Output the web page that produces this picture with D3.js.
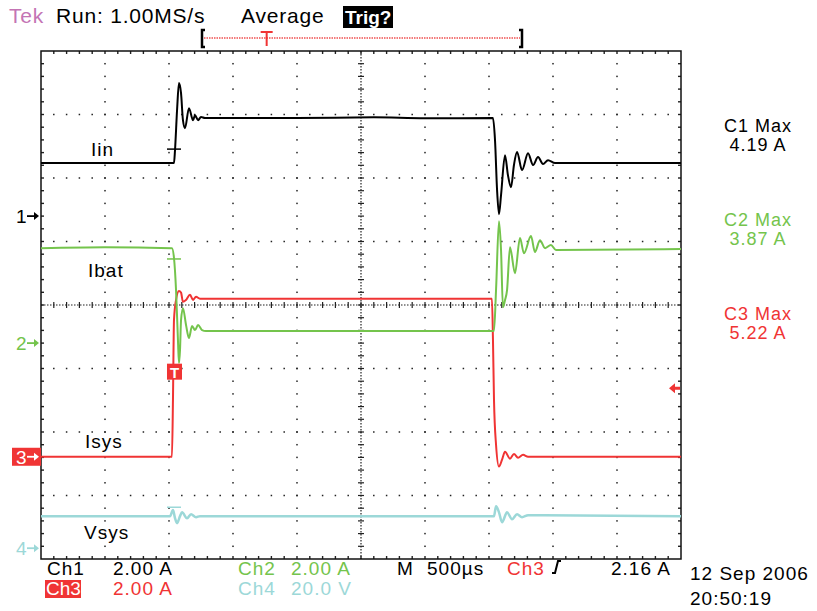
<!DOCTYPE html>
<html>
<head>
<meta charset="utf-8">
<script src="https://cdn.jsdelivr.net/npm/d3@7"></script>
<style>
  body { margin: 0; background: #fff; }
  text { font-family: "Liberation Sans", Arial, sans-serif; }
</style>
</head>
<body>
<div id="scope"></div>
<script>
// ---- data (time in µs from left edge, value in A or V) ----
var iinTrace = [[0,1.67],[1039,1.67],[1047,2.08],[1063,3.34],[1078,4.19],[1094,3.87],[1109,3.02],
  [1125,2.77],[1156,3.40],[1188,3.02],[1203,3.18],[1227,3.02],[1250,3.12],[1281,3.09],[2000,3.09],
  [2600,3.11],[3000,3.08],[3531,3.09],[3547,2.39],[3563,0.82],[3578,0.06],[3594,0.66],[3625,1.92],
  [3648,1.29],[3672,0.91],[3695,1.61],[3719,2.02],[3758,1.45],[3805,1.98],[3844,1.61],[3883,1.86],
  [3922,1.64],[3961,1.76],[4016,1.67],[5000,1.67]];

var ibatTrace = [[0,2.99],[500,3.02],[1023,2.99],[1039,2.68],[1055,1.67],[1070,0.09],[1078,-0.63],
  [1086,-0.22],[1094,0.72],[1109,1.10],[1133,0.57],[1156,0.16],[1180,0.54],[1203,0.41],[1227,0.57],
  [1258,0.41],[1289,0.38],[3539,0.38],[3555,1.67],[3578,3.84],[3594,2.93],[3609,1.13],[3625,1.35],
  [3641,1.67],[3664,3.02],[3703,2.20],[3742,3.31],[3773,2.83],[3828,3.37],[3859,2.87],[3898,3.24],
  [3938,2.99],[3984,3.09],[4023,2.93],[5000,2.96]];

var isysTrace = [[0,0],[1023,0],[1031,1.80],[1039,4.31],[1055,4.94],[1078,5.22],[1094,5.17],
  [1109,4.88],[1133,4.94],[1164,5.10],[1188,4.94],[1211,5.04],[1242,4.98],[3523,4.98],[3531,3.69],
  [3539,1.80],[3555,0.38],[3578,-0.31],[3602,-0.09],[3625,0.16],[3664,-0.06],[3695,0.09],
  [3727,-0.03],[3766,0.06],[3805,0],[5000,0]];

var vsysTrace = [[0,10.1],[1008,10.1],[1031,12.0],[1047,9.45],[1063,7.87],[1086,10.1],[1102,11.3],
  [1141,9.45],[1172,10.7],[1211,9.76],[1242,10.1],[3539,10.1],[3555,13.2],[3578,11.3],[3602,8.19],
  [3641,11.3],[3680,9.13],[3719,10.7],[3758,9.76],[3805,10.4],[5000,10.1]];

var traceNames = ["Iin", "Ibat", "Isys", "Vsys"];
var channelNames = ["Ch1", "Ch2", "Ch3", "Ch4"];
var voltsPerDiv = [2.00, 2.00, 2.00, 20.0];
var maxLabels = ["C1 Max", "C2 Max", "C3 Max"];
var maxValues = ["4.19 A", "3.87 A", "5.22 A"];
var triggerTime = 1039;          // µs
var triggerLevel = 2.16;         // A on Ch3
var markValues = [2.11, 2.65, 2.68, 12.9]; // where the trigger marks sit on each trace

// ---- layout ----
var W = 817, H = 611;
var box = {left: 41, right: 681, top: 51, bottom: 559};
var colors = ["#000000", "#74c44c", "#f03434", "#9cd8d8"];
var offsets = [1.40, -0.60, -2.39, -3.83];   // channel ground in divisions from centre

var svg = d3.select("#scope").append("svg").attr("width", W).attr("height", H);

var x = d3.scaleLinear().domain([0, 5000]).range([box.left, box.right]);
var yDiv = d3.scaleLinear().domain([-4, 4]).range([box.bottom, box.top]);
var divH = (box.bottom - box.top) / 8;

var chY = voltsPerDiv.map(function(vpd, i) {
  var zero = yDiv(offsets[i]);
  return d3.scaleLinear().domain([0, vpd]).range([zero, zero - divH]);
});

// ---- graticule ----
var grid = svg.append("g");
var dot = "#222";

// dotted major lines
d3.range(1, 10).forEach(function(k) {
  var gx = x(k * 500);
  if (k === 5) return;
  d3.range(-4 + 0.2, 4, 0.2).forEach(function(v) {
    grid.append("rect").attr("x", gx - 0.75).attr("y", yDiv(v) - 0.75)
      .attr("width", 1.5).attr("height", 1.5).attr("fill", dot);
  });
});
d3.range(-3, 4).forEach(function(k) {
  if (k === 0) return;
  var gy = yDiv(k);
  d3.range(0.2, 10, 0.2).forEach(function(t) {
    grid.append("rect").attr("x", x(t * 500) - 0.75).attr("y", gy - 0.75)
      .attr("width", 1.5).attr("height", 1.5).attr("fill", dot);
  });
});

// centre cross: dense dots with ticks
var cx = x(2500), cy = yDiv(0);
grid.append("line").attr("x1", box.left).attr("x2", box.right).attr("y1", cy).attr("y2", cy)
  .attr("stroke", dot).attr("stroke-width", 1.2).attr("stroke-dasharray", "1.5,1.5");
grid.append("line").attr("x1", cx).attr("x2", cx).attr("y1", box.top).attr("y2", box.bottom)
  .attr("stroke", dot).attr("stroke-width", 1.2).attr("stroke-dasharray", "1.5,1.5");
d3.range(0.2, 10, 0.2).forEach(function(t) {
  grid.append("line").attr("x1", x(t * 500)).attr("x2", x(t * 500))
    .attr("y1", cy - 3).attr("y2", cy + 3).attr("stroke", dot).attr("stroke-width", 1.2);
});
d3.range(-4 + 0.2, 4, 0.2).forEach(function(v) {
  grid.append("line").attr("x1", cx - 3).attr("x2", cx + 3)
    .attr("y1", yDiv(v)).attr("y2", yDiv(v)).attr("stroke", dot).attr("stroke-width", 1.2);
});

// frame ticks
d3.range(0.2, 10, 0.2).forEach(function(t) {
  grid.append("line").attr("x1", x(t * 500)).attr("x2", x(t * 500))
    .attr("y1", box.top).attr("y2", box.top + 3).attr("stroke", dot).attr("stroke-width", 1.4);
  grid.append("line").attr("x1", x(t * 500)).attr("x2", x(t * 500))
    .attr("y1", box.bottom - 3).attr("y2", box.bottom).attr("stroke", dot).attr("stroke-width", 1.4);
});
d3.range(-4 + 0.2, 4, 0.2).forEach(function(v) {
  grid.append("line").attr("x1", box.left).attr("x2", box.left + 3)
    .attr("y1", yDiv(v)).attr("y2", yDiv(v)).attr("stroke", dot).attr("stroke-width", 1.4);
  grid.append("line").attr("x1", box.right - 3).attr("x2", box.right)
    .attr("y1", yDiv(v)).attr("y2", yDiv(v)).attr("stroke", dot).attr("stroke-width", 1.4);
});

grid.append("rect").attr("x", box.left).attr("y", box.top)
  .attr("width", box.right - box.left).attr("height", box.bottom - box.top)
  .attr("fill", "none").attr("stroke", "#111").attr("stroke-width", 1.5);

// ---- traces ----
var traces = [iinTrace, ibatTrace, isysTrace, vsysTrace];
var drawOrder = [3, 0, 2, 1];
drawOrder.forEach(function(i) {
  var line = d3.line().curve(d3.curveMonotoneX)
    .x(function(d) { return x(d[0]); }).y(function(d) { return chY[i](d[1]); });
  svg.append("path").datum(traces[i]).attr("d", line)
    .attr("fill", "none").attr("stroke", colors[i])
    .attr("stroke-width", i === 3 ? 2.5 : 2).attr("stroke-linejoin", "round");
});

// trigger marks on traces 1, 2, 4
[0, 1, 3].forEach(function(i) {
  var mx = x(triggerTime), my = chY[i](markValues[i]);
  svg.append("line").attr("x1", mx - 7).attr("x2", mx + 7).attr("y1", my).attr("y2", my)
    .attr("stroke", colors[i]).attr("stroke-width", 1.5);
});

// trigger point box on Ch3
var tx = x(triggerTime), ty = chY[2](markValues[2]);
svg.append("rect").attr("x", tx - 7).attr("y", ty - 8).attr("width", 15).attr("height", 16)
  .attr("fill", colors[2]);
svg.append("text").attr("x", tx + 0.5).attr("y", ty + 6).attr("text-anchor", "middle")
  .attr("fill", "#fff").attr("font-size", 15).attr("font-weight", "bold").text("T");

// trigger level arrow on right edge
var ly = chY[2](triggerLevel);
svg.append("path").attr("d", "M" + (box.right - 12) + "," + ly + "l6,-5v3.5h5v3h-5v3.5z")
  .attr("fill", colors[2]);

// trace labels
var labelPos = [[91, 156], [88, 277], [85, 448], [84, 539]];
traceNames.forEach(function(n, i) {
  svg.append("text").attr("x", labelPos[i][0]).attr("y", labelPos[i][1])
    .attr("font-size", 19).attr("letter-spacing", 1).attr("fill", "#000").text(n);
});

// channel ground markers on left
offsets.forEach(function(o, i) {
  var gy = yDiv(o);
  var g = svg.append("g");
  if (i === 2) {
    g.append("rect").attr("x", 12).attr("y", gy - 9).attr("width", 29).attr("height", 18).attr("fill", colors[2]);
  }
  var c = i === 2 ? "#fff" : colors[i];
  g.append("text").attr("x", 16).attr("y", gy + 7).attr("font-size", 19).attr("fill", c).text(String(i + 1));
  g.append("path").attr("d", "M27," + gy + "h9").attr("stroke", c).attr("stroke-width", 1.8);
  g.append("path").attr("d", "M39," + gy + "l-5,-4v8z").attr("fill", c);
});

// right side measurements
var maxY = [[132, 151], [226, 245], [320, 339]];
maxLabels.forEach(function(m, i) {
  svg.append("text").attr("x", 758).attr("y", maxY[i][0]).attr("text-anchor", "middle")
    .attr("font-size", 18).attr("letter-spacing", 1).attr("fill", colors[i]).text(m);
  svg.append("text").attr("x", 758).attr("y", maxY[i][1]).attr("text-anchor", "middle")
    .attr("font-size", 18).attr("letter-spacing", 1).attr("fill", colors[i]).text(maxValues[i]);
});

// ---- header ----
var hdr = svg.append("g").attr("font-size", 21).attr("letter-spacing", 0.8);
hdr.append("text").attr("x", 9).attr("y", 23).attr("fill", "#c474b4").text("Tek");
hdr.append("text").attr("x", 56).attr("y", 23).attr("fill", "#000").text("Run: 1.00MS/s");
hdr.append("text").attr("x", 241).attr("y", 23).attr("fill", "#000").text("Average");
hdr.append("rect").attr("x", 343).attr("y", 6).attr("width", 50).attr("height", 22).attr("fill", "#000");
hdr.append("text").attr("x", 345).attr("y", 24).attr("fill", "#fff").attr("font-weight", "bold")
  .attr("letter-spacing", 0).attr("font-size", 19).text("Trig?");

// record view bar
var recY = 38;
svg.append("line").attr("x1", 204).attr("x2", 520).attr("y1", recY).attr("y2", recY)
  .attr("stroke", "#f05050").attr("stroke-width", 1.5).attr("stroke-dasharray", "1.5,1");
svg.append("path").attr("d", "M205,30h-3v17h3").attr("fill", "none").attr("stroke", "#000").attr("stroke-width", 2.5);
svg.append("path").attr("d", "M519,30h3v17h-3").attr("fill", "none").attr("stroke", "#000").attr("stroke-width", 2.5);
var recT = 204 + (520 - 204) * (triggerTime / 5000) - 3;
svg.append("path").attr("d", "M" + (recT - 6) + ",32h12M" + recT + ",32v14")
  .attr("stroke", "#f03434").attr("stroke-width", 2).attr("fill", "none");

// ---- bottom readouts ----
var bot = svg.append("g").attr("font-size", 19).attr("letter-spacing", 1);
var r1 = 575, r2 = 595;
bot.append("text").attr("x", 47).attr("y", r1).attr("fill", "#000").text(channelNames[0]);
bot.append("text").attr("x", 113).attr("y", r1).attr("fill", "#000").text(voltsPerDiv[0].toFixed(2) + " A");
bot.append("text").attr("x", 238).attr("y", r1).attr("fill", colors[1]).text(channelNames[1]);
bot.append("text").attr("x", 291).attr("y", r1).attr("fill", colors[1]).text(voltsPerDiv[1].toFixed(2) + " A");
bot.append("text").attr("x", 397).attr("y", r1).attr("fill", "#000").text("M");
bot.append("text").attr("x", 427).attr("y", r1).attr("fill", "#000").text("500µs");
bot.append("text").attr("x", 507).attr("y", r1).attr("fill", colors[2]).text(channelNames[2]);
bot.append("path").attr("d", "M552,573h3l3,-12h3").attr("fill", "none").attr("stroke", "#000").attr("stroke-width", 2);
bot.append("text").attr("x", 611).attr("y", r1).attr("fill", "#000").text(triggerLevel.toFixed(2) + " A");

bot.append("rect").attr("x", 45).attr("y", 580).attr("width", 36).attr("height", 18).attr("fill", colors[2]);
bot.append("text").attr("x", 46).attr("y", r2).attr("fill", "#fff").attr("letter-spacing", 0).text(channelNames[2]);
bot.append("text").attr("x", 113).attr("y", r2).attr("fill", colors[2]).text(voltsPerDiv[2].toFixed(2) + " A");
bot.append("text").attr("x", 238).attr("y", r2).attr("fill", colors[3]).text(channelNames[3]);
bot.append("text").attr("x", 291).attr("y", r2).attr("fill", colors[3]).text(voltsPerDiv[3].toFixed(1) + " V");

bot.append("text").attr("x", 690).attr("y", 580).attr("fill", "#000").attr("font-size", 19).text("12 Sep 2006");
bot.append("text").attr("x", 690).attr("y", 605).attr("fill", "#000").attr("font-size", 19).text("20:50:19");
</script>
</body>
</html>
